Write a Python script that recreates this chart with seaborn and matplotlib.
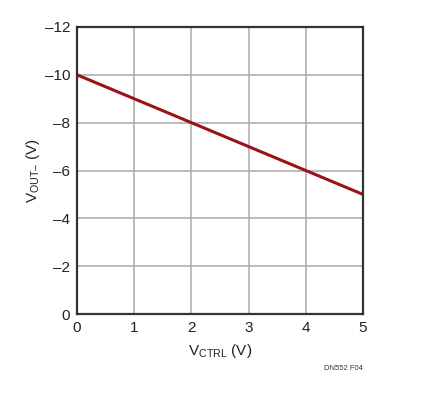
import matplotlib
matplotlib.use("Agg")
import matplotlib.pyplot as plt
import seaborn as sns
import pandas as pd

v_ctrl = [0, 1, 2, 3, 4, 5]
v_out = [-10, -9, -8, -7, -6, -5]
x_ticks = [0, 1, 2, 3, 4, 5]
y_ticks = [0, -2, -4, -6, -8, -10, -12]

sns.set_theme(style="white")
plt.rcParams['font.family'] = ['Liberation Sans', 'DejaVu Sans']
plt.rcParams['mathtext.fontset'] = 'custom'
plt.rcParams['mathtext.rm'] = 'Liberation Sans'
plt.rcParams['axes.unicode_minus'] = True

df = pd.DataFrame({"VCTRL": v_ctrl, "VOUT": v_out})

fig = plt.figure(figsize=(4.35, 3.93), dpi=100)
ax = fig.add_axes([77/435, 1-314/393, (363-77)/435, (314-27)/393])

sns.lineplot(data=df, x="VCTRL", y="VOUT", ax=ax, color="#9a1318", linewidth=2.2)

ax.set_xlim(0, 5)
ax.set_ylim(0, -12)
ax.set_xticks(x_ticks)
ax.set_yticks(y_ticks)
ax.set_xticklabels([str(t) for t in x_ticks])
ax.set_yticklabels([str(t).replace('-', '\u2013') for t in y_ticks])
ax.grid(True, color="#b0b0b0", linewidth=1.2)
ax.set_axisbelow(True)
for s in ax.spines.values():
    s.set_color("#333333")
    s.set_linewidth(1.6)
ax.tick_params(axis='both', length=0, labelsize=11, colors="#222222", pad=5)
ax.set_xlabel(r'$\mathregular{V_{CTRL}}$ (V)', fontsize=11, color="#222222", labelpad=5)
ax.set_ylabel('$\\mathregular{V_{OUT\u2013}}$ (V)', fontsize=11, color="#222222", labelpad=2)

fig.text(363/435, 1-368/393, "DN552 F04", fontsize=5.5, color="#333333", ha="right", va="center")

fig.savefig("out.png", dpi=100)
